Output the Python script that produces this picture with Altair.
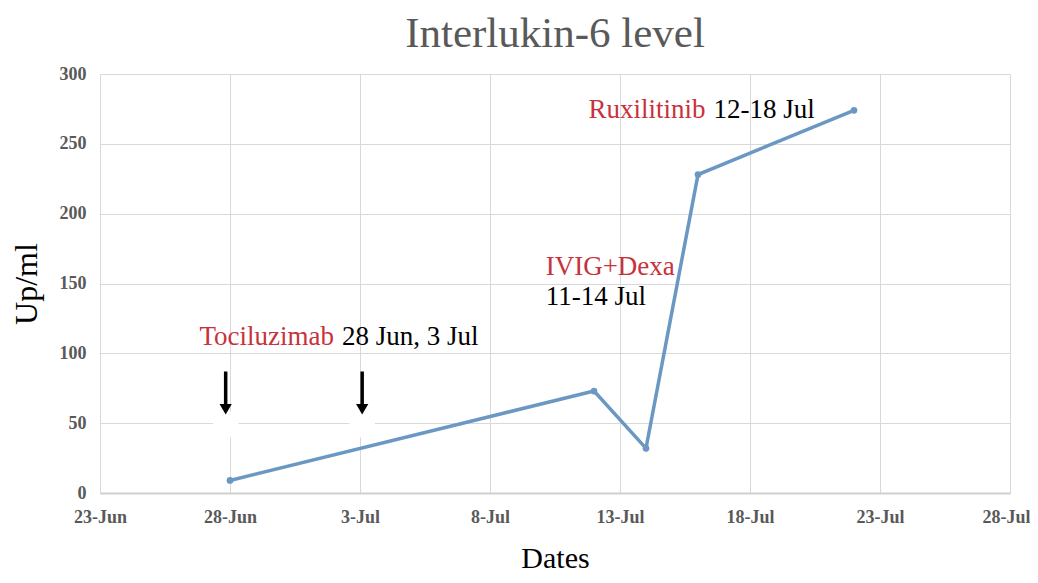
import altair as alt
import pandas as pd

# Data
dates = ["2020-06-28", "2020-07-12", "2020-07-14", "2020-07-16", "2020-07-22"]
il6 = [9, 73, 32, 228, 274]

tick_dates = ["2020-06-23", "2020-06-28", "2020-07-03", "2020-07-08",
              "2020-07-13", "2020-07-18", "2020-07-23", "2020-07-28"]
y_ticks = [0, 50, 100, 150, 200, 250, 300]

# annotations
ann_text = ["Tociluzimab", "28 Jun, 3 Jul", "IVIG+Dexa", "11-14 Jul", "Ruxilitinib", "12-18 Jul"]
ann_date = ["2020-07-02T00:00", "2020-07-02T00:00", "2020-07-09T20:00", "2020-07-09T20:00",
            "2020-07-16T07:00", "2020-07-16T07:00"]
ann_val = [112, 112, 162, 140, 274, 274]
ann_color = ["red", "black", "red", "black", "red", "black"]
ann_side = ["right", "left", "left", "left", "right", "left"]

arrow_dates = ["2020-06-27T20:00", "2020-07-03T02:00"]
arrow_top = [87, 87]
arrow_bottom = [63, 63]
arrow_head = [60, 60]
halo_val = [49, 49]

FONT = "Liberation Serif"
LINE = "#6a98c2"
RED = "#c8323c"

df = pd.DataFrame({"date": dates, "value": il6})
ann = pd.DataFrame({"text": ann_text, "date": ann_date, "value": ann_val,
                    "color": ann_color, "side": ann_side})
arr = pd.DataFrame({"date": arrow_dates, "top": arrow_top, "bottom": arrow_bottom,
                    "head": arrow_head, "halo": halo_val})

xscale = alt.Scale(type="utc", domain=[alt.DateTime(year=2020, month=6, date=23, utc=True),
                                       alt.DateTime(year=2020, month=7, date=28, utc=True)])
yscale = alt.Scale(domain=[0, 300], nice=False)

tick_vals = []
for d in tick_dates:
    y, m, dd = d.split("-")
    tick_vals.append(alt.DateTime(year=int(y), month=int(m), date=int(dd), utc=True))

xaxis = alt.Axis(title="Dates", values=tick_vals, labelExpr="utcFormat(datum.value, '%-d-%b')",
                 labelFont=FONT, labelFontSize=18, labelFontWeight="bold", labelColor="#595959",
                 labelPadding=15, ticks=False, domainColor="#d0d0d0", domainWidth=2,
                 labelAlign={"expr": "datum.index == 1 ? 'right' : 'center'"},
                 labelOffset={"expr": "datum.index == 1 ? 20 : 0"},
                 gridColor="#d9d9d9", titleFont=FONT, titleFontSize=30, titleFontWeight="normal",
                 titleColor="#000000", titleY=65, titleBaseline="middle", labelFlush=False)
yaxis = alt.Axis(title="Up/ml", values=y_ticks, labelFont=FONT, labelFontSize=18,
                 labelFontWeight="bold", labelColor="#595959", labelPadding=14, ticks=False,
                 domain=False, gridColor="#d9d9d9", titleFont=FONT, titleFontSize=32,
                 titleFontWeight="normal", titleColor="#000000", titleX=-74,
                 titleBaseline="middle")

base = alt.Chart(df)

grid = base.mark_line(opacity=0).encode(
    x=alt.X("date:T", scale=xscale, axis=xaxis),
    y=alt.Y("value:Q", scale=yscale, axis=yaxis),
)

halo = alt.Chart(arr).mark_point(shape="square", filled=True, color="white", opacity=1, size=650).encode(
    x=alt.X("date:T", scale=xscale), y=alt.Y("halo:Q", scale=yscale))

shaft = alt.Chart(arr).mark_rule(color="black", strokeWidth=3.5).encode(
    x=alt.X("date:T", scale=xscale), y=alt.Y("top:Q", scale=yscale), y2="bottom:Q")

head = alt.Chart(arr).mark_point(shape="triangle-down", filled=True, color="black", opacity=1, size=150).encode(
    x=alt.X("date:T", scale=xscale), y=alt.Y("head:Q", scale=yscale))

line = base.mark_line(color=LINE, strokeWidth=3.5).encode(
    x=alt.X("date:T", scale=xscale), y=alt.Y("value:Q", scale=yscale))
pts = base.mark_point(color=LINE, filled=True, opacity=1, size=45).encode(
    x=alt.X("date:T", scale=xscale), y=alt.Y("value:Q", scale=yscale))

def ann_layer(side, dx):
    return alt.Chart(ann).transform_filter(alt.datum.side == side).mark_text(
        align=side, baseline="middle", font=FONT, fontSize=27, dx=dx).encode(
        x=alt.X("date:T", scale=xscale), y=alt.Y("value:Q", scale=yscale),
        text="text:N",
        color=alt.Color("color:N", scale=alt.Scale(domain=["red", "black"], range=[RED, "#000000"]),
                        legend=None))

texts = ann_layer("right", 0) + ann_layer("left", 8)

chart = alt.layer(grid, halo, shaft, head, line, pts, texts).properties(
    width=910, height=419,
    title=alt.Title("Interlukin-6  level", font=FONT, fontSize=43, fontWeight="normal",
                    color="#595959", anchor="middle", offset=9),
    autosize=alt.AutoSizeParams(type="none"),
    padding={"left": 92, "top": 66, "right": 20, "bottom": 82},
).configure_view(stroke=None)

chart.save("out.html", embed_options={"renderer": "svg", "actions": False})
